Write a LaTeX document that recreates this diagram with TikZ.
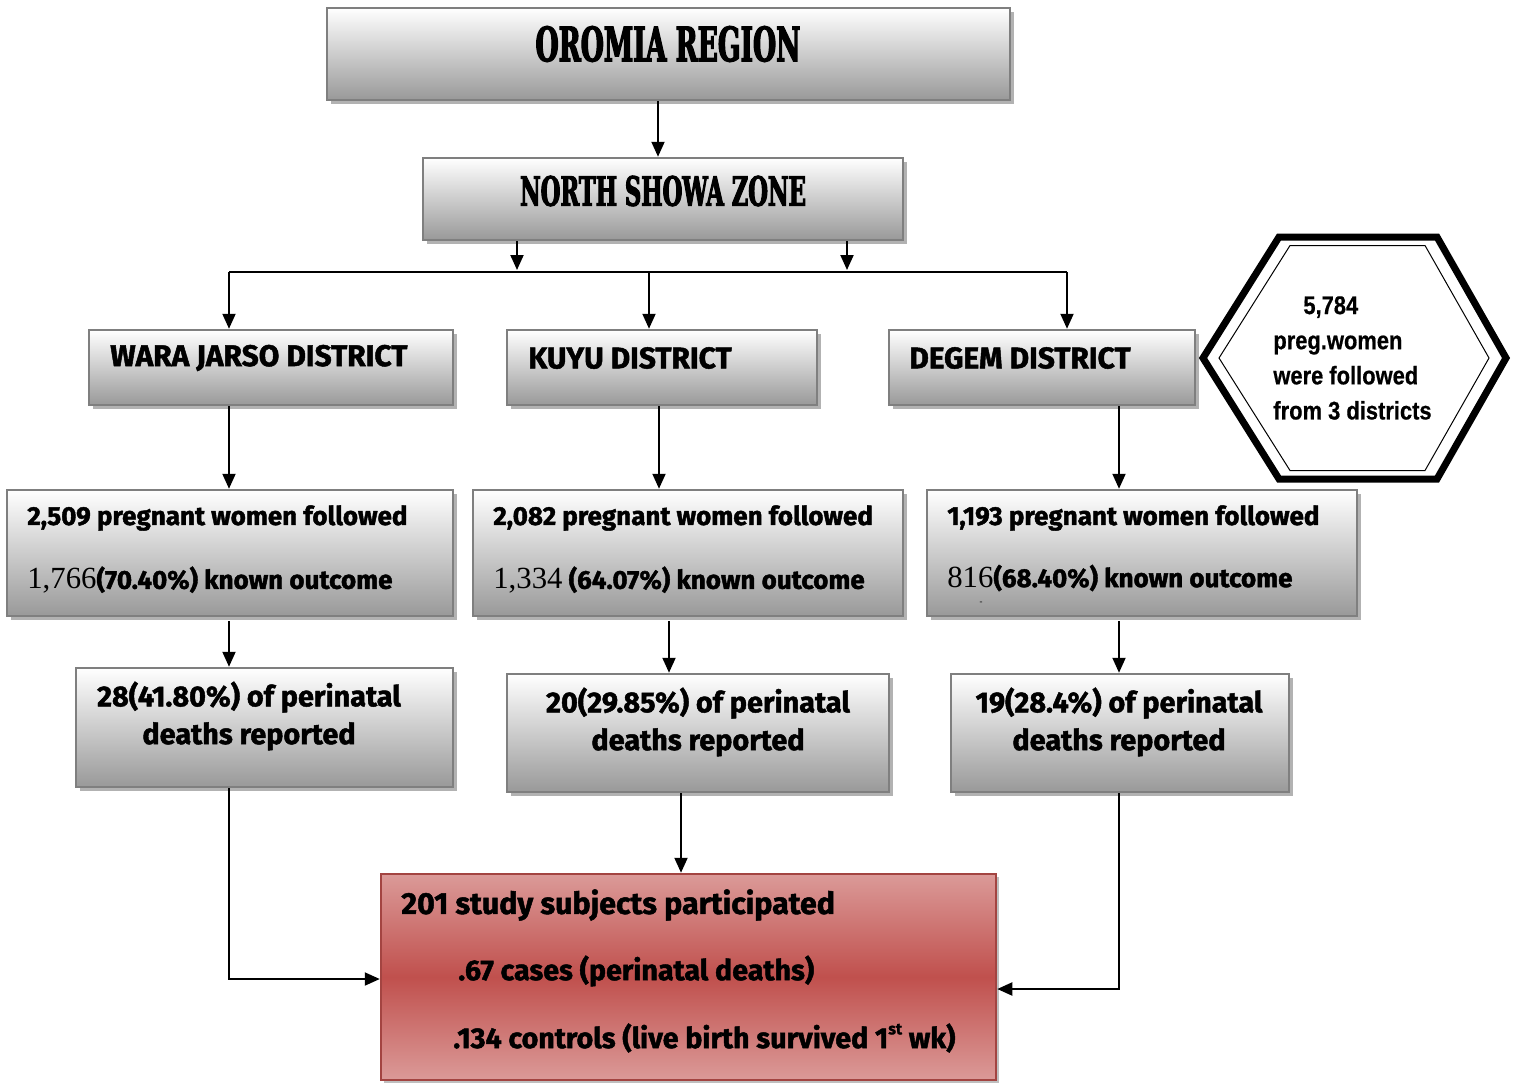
\documentclass[tikz,border=0pt]{standalone}
\usepackage{fontspec}
\setmainfont{Liberation Serif}
\newfontfamily\boxfont{Fira Sans}[BoldFeatures={FakeBold=1.6}]
\newfontfamily\titlefont[FakeStretch=0.56, BoldFeatures={FakeBold=2.5}]{DejaVu Serif}
\newfontfamily\hexfont[FakeStretch=0.86, BoldFeatures={FakeBold=0.6}]{Liberation Sans}
\usetikzlibrary{arrows.meta, calc, fit, shadows}

\definecolor{rosy}{HTML}{DB9A98}
\definecolor{brick}{HTML}{C0504D}
\definecolor{boxline}{HTML}{7F7F7F}

\newcommand{\serifnum}[1]{{\rmfamily\mdseries\fontsize{17.5}{20}\selectfont #1}}
\newcommand{\smallsup}[1]{\raisebox{0.9ex}{\fontsize{9}{9}\selectfont #1}}

\tikzset{
  greybox/.style={draw=boxline, line width=0.05cm, top color=white, bottom color=black!40,
    inner sep=0pt, drop shadow={shadow xshift=0.08cm, shadow yshift=-0.08cm, fill=black!30, opacity=1}},
  redbox/.style={draw=brick!85!black, line width=0.05cm, top color=rosy, bottom color=rosy, middle color=brick,
    inner sep=0pt, drop shadow={shadow xshift=0.06cm, shadow yshift=-0.06cm, fill=black!25, opacity=1}},
  arr/.style={line width=0.04cm, -{Triangle[length=0.3cm, width=0.26cm]}},
  ln/.style={line width=0.04cm},
  titletxt/.style={inner sep=0pt, font=\titlefont\bfseries\fontsize{27}{30}\selectfont},
  disttxt/.style={anchor=west, inner sep=0pt, font=\boxfont\bfseries\fontsize{17}{20}\selectfont},
  foltxt/.style={anchor=west, inner sep=0pt, font=\boxfont\bfseries\fontsize{14.8}{17}\selectfont},
  deathtxt/.style={align=center, inner sep=0pt, font=\boxfont\bfseries\fontsize{16.4}{21.5}\selectfont},
  redtxt/.style={anchor=west, inner sep=0pt, font=\boxfont\bfseries\fontsize{17.3}{20}\selectfont},
}

\begin{document}
\begin{tikzpicture}[x=0.02cm, y=-0.02cm]
\useasboundingbox (0,0) rectangle (1513,1082);

% boxes
\node[greybox, fit={(327,8) (1010,100)}] (oromia) {};
\node[greybox, fit={(423,158) (903,240)}] (showa) {};
\node[greybox, fit={(89,330) (453,405)}] (wara) {};
\node[greybox, fit={(507,330) (817,405)}] (kuyu) {};
\node[greybox, fit={(889,330) (1195,405)}] (degem) {};
\node[greybox, fit={(7,490) (453,616)}] (fol1) {};
\node[greybox, fit={(473,490) (903,616)}] (fol2) {};
\node[greybox, fit={(927,490) (1357,616)}] (fol3) {};
\node[greybox, fit={(76,668) (453,787)}] (dth1) {};
\node[greybox, fit={(507,674) (889,792)}] (dth2) {};
\node[greybox, fit={(951,674) (1289,792)}] (dth3) {};
\node[redbox, fit={(381,874) (996,1080)}] (study) {};

% texts
\node[titletxt] (oromiatxt) at (668,44) {OROMIA REGION};
\node[titletxt, font=\titlefont\bfseries\fontsize{23}{26}\selectfont] (showatxt) at (663,191) {NORTH SHOWA ZONE};
\node[disttxt] (waratxt) at (110,358) {WARA JARSO DISTRICT};
\node[disttxt] (kuyutxt) at (528,358) {KUYU DISTRICT};
\node[disttxt] (degemtxt) at (909,358) {DEGEM DISTRICT};
\node[foltxt] (fol1a) at (27,518) {2,509 pregnant women followed};
\node[foltxt] (fol1b) at (27,580) {\serifnum{1,766}(70.40\%) known outcome};
\node[foltxt] (fol2a) at (493,518) {2,082 pregnant women followed};
\node[foltxt] (fol2b) at (493,580) {\serifnum{1,334} (64.07\%) known outcome};
\node[foltxt] (fol3a) at (947,518) {1,193 pregnant women followed};
\node[foltxt] (fol3b) at (947,578) {\serifnum{816}(68.40\%) known outcome};
\node[inner sep=0pt, font=\tiny] (stray) at (981,603) {-};
\node[deathtxt] (dth1txt) at (249,716) {28(41.80\%) of perinatal\\deaths reported};
\node[deathtxt] (dth2txt) at (698,722) {20(29.85\%) of perinatal\\deaths reported};
\node[deathtxt] (dth3txt) at (1119,722) {19(28.4\%) of perinatal\\deaths reported};
\node[redtxt] (studya) at (401,905) {201 study subjects participated};
\node[redtxt, font=\boxfont\bfseries\fontsize{16.3}{20}\selectfont] (studyb) at (458,971) {.67 cases (perinatal deaths)};
\node[redtxt, font=\boxfont\bfseries\fontsize{16.3}{20}\selectfont] (studyc) at (453,1038) {.134 controls (live birth survived 1\smallsup{st} wk)};

% hexagon note
\draw[line width=0.14cm, line join=miter] (1203,358) -- (1279,237) -- (1437,237) -- (1506,358) -- (1437,479) -- (1279,479) -- cycle;
\draw[line width=0.02cm] (1219,358) -- (1290,245.5) -- (1425,245.5) -- (1489,358) -- (1425,470.5) -- (1290,470.5) -- cycle;
\node[anchor=west, align=left, inner sep=0pt, font=\hexfont\bfseries\fontsize{14.5}{20}\selectfont] (hexnote) at (1273,358)
  {\hspace*{0.6cm}5,784\\preg.women\\were followed\\from 3 districts};

% connectors
\coordinate (xtop) at (658,0);
\coordinate (xsl) at (517,0);
\coordinate (xsr) at (847,0);
\coordinate (busL) at (229,272);
\coordinate (busM) at (649,272);
\coordinate (busR) at (1067,272);
\coordinate (xk) at (659,0);
\coordinate (xd) at (1119,0);
\coordinate (xk2) at (669,0);
\coordinate (xs) at (681,0);

\draw[arr] (oromia.south -| xtop) -- (showa.north -| xtop);
\draw[arr] (showa.south -| xsl) -- ($(busL -| xsl)+(0,-2)$);
\draw[arr] (showa.south -| xsr) -- ($(busL -| xsr)+(0,-2)$);
\draw[ln] (busL) -- (busR);
\draw[arr] (busL) -- (wara.north -| busL);
\draw[arr] (busM) -- (kuyu.north -| busM);
\draw[arr] (busR) -- (degem.north -| busR);

\draw[arr] (wara.south -| busL) -- (fol1.north -| busL);
\draw[arr] (kuyu.south -| xk) -- (fol2.north -| xk);
\draw[arr] (degem.south -| xd) -- (fol3.north -| xd);

\draw[arr] ($(fol1.south -| busL)+(0,4)$) -- (dth1.north -| busL);
\draw[arr] ($(fol2.south -| xk2)+(0,4)$) -- (dth2.north -| xk2);
\draw[arr] ($(fol3.south -| xd)+(0,4)$) -- (dth3.north -| xd);

\draw[arr] (dth1.south -| busL) |- ($(study.west)+(0,2)$);
\draw[arr] (dth2.south -| xs) -- (study.north -| xs);
\draw[arr] (dth3.south -| xd) |- ($(study.east)+(0,12)$);
\end{tikzpicture}
\end{document}
